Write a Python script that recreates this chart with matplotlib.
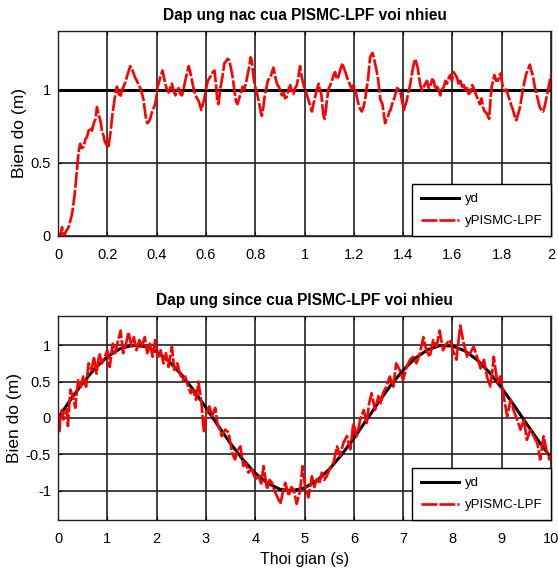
import matplotlib
matplotlib.use("Agg")
import matplotlib.pyplot as plt

# Step response
t_step = [0.000, 0.010, 0.016, 0.024, 0.032, 0.043, 0.057, 0.068, 0.077, 0.084, 0.090, 0.097,
          0.104, 0.111, 0.118, 0.124, 0.131, 0.138, 0.145, 0.152, 0.158, 0.163, 0.168, 0.173,
          0.178, 0.184, 0.189, 0.194, 0.199, 0.204, 0.208, 0.214, 0.219, 0.225, 0.230, 0.235,
          0.239, 0.246, 0.253, 0.260, 0.266, 0.273, 0.280, 0.287, 0.293, 0.300, 0.307, 0.313,
          0.320, 0.327, 0.334, 0.341, 0.347, 0.352, 0.357, 0.362, 0.368, 0.374, 0.380, 0.387,
          0.394, 0.399, 0.404, 0.410, 0.415, 0.420, 0.424, 0.430, 0.435, 0.442, 0.449, 0.455,
          0.462, 0.469, 0.476, 0.482, 0.489, 0.496, 0.503, 0.510, 0.516, 0.523, 0.530, 0.535,
          0.540, 0.547, 0.554, 0.561, 0.568, 0.575, 0.581, 0.588, 0.595, 0.601, 0.608, 0.615,
          0.622, 0.628, 0.635, 0.641, 0.646, 0.651, 0.658, 0.668, 0.675, 0.681, 0.688, 0.695,
          0.701, 0.708, 0.715, 0.722, 0.728, 0.735, 0.742, 0.749, 0.755, 0.762, 0.769, 0.776,
          0.781, 0.786, 0.792, 0.797, 0.803, 0.808, 0.814, 0.819, 0.823, 0.827, 0.833, 0.838,
          0.845, 0.851, 0.858, 0.865, 0.870, 0.874, 0.881, 0.888, 0.895, 0.901, 0.908, 0.915,
          0.921, 0.928, 0.935, 0.942, 0.948, 0.955, 0.962, 0.969, 0.975, 0.982, 0.987, 0.992,
          0.998, 1.003, 1.010, 1.016, 1.023, 1.030, 1.036, 1.043, 1.050, 1.057, 1.062, 1.068,
          1.073, 1.077, 1.082, 1.086, 1.091, 1.097, 1.104, 1.111, 1.118, 1.124, 1.131, 1.138,
          1.146, 1.154, 1.161, 1.168, 1.173, 1.178, 1.185, 1.192, 1.198, 1.205, 1.212, 1.219,
          1.225, 1.232, 1.239, 1.246, 1.251, 1.257, 1.262, 1.266, 1.271, 1.276, 1.281, 1.286,
          1.292, 1.297, 1.303, 1.308, 1.316, 1.322, 1.327, 1.332, 1.338, 1.344, 1.349, 1.355,
          1.362, 1.369, 1.376, 1.383, 1.389, 1.396, 1.403, 1.408, 1.414, 1.421, 1.427, 1.433,
          1.438, 1.444, 1.449, 1.454, 1.459, 1.465, 1.470, 1.477, 1.484, 1.490, 1.497, 1.504,
          1.511, 1.518, 1.524, 1.531, 1.538, 1.545, 1.551, 1.558, 1.565, 1.572, 1.578, 1.585,
          1.592, 1.598, 1.605, 1.612, 1.619, 1.626, 1.632, 1.639, 1.646, 1.653, 1.659, 1.666,
          1.673, 1.680, 1.684, 1.690, 1.697, 1.704, 1.711, 1.718, 1.724, 1.731, 1.738, 1.744,
          1.749, 1.754, 1.759, 1.765, 1.770, 1.777, 1.784, 1.790, 1.795, 1.800, 1.805, 1.812,
          1.819, 1.826, 1.832, 1.839, 1.846, 1.852, 1.859, 1.866, 1.873, 1.880, 1.886, 1.893,
          1.900, 1.907, 1.914, 1.920, 1.927, 1.934, 1.941, 1.948, 1.954, 1.961, 1.968, 1.975,
          1.981, 1.988, 1.995, 2.000]
y_step = [0.02, 0.00, 0.06, 0.00, 0.03, 0.06, 0.15, 0.29, 0.45, 0.58, 0.63, 0.60,
          0.61, 0.66, 0.68, 0.72, 0.74, 0.72, 0.77, 0.80, 0.88, 0.84, 0.81, 0.78,
          0.72, 0.69, 0.65, 0.63, 0.62, 0.60, 0.65, 0.72, 0.81, 0.88, 0.94, 0.99,
          1.02, 0.97, 0.95, 1.00, 1.02, 1.05, 1.09, 1.13, 1.16, 1.14, 1.11, 1.08,
          1.06, 1.03, 1.01, 0.97, 0.93, 0.86, 0.80, 0.77, 0.78, 0.80, 0.84, 0.87,
          0.90, 0.95, 1.02, 1.05, 1.09, 1.11, 1.13, 1.08, 1.04, 1.00, 0.98, 1.01,
          1.04, 0.99, 0.96, 0.99, 1.01, 0.97, 0.96, 1.01, 1.06, 1.11, 1.16, 1.13,
          1.09, 1.03, 0.98, 0.95, 0.93, 0.90, 0.86, 0.90, 0.95, 1.01, 1.06, 1.08,
          1.10, 1.12, 1.13, 1.03, 0.92, 0.90, 1.00, 1.10, 1.18, 1.19, 1.21, 1.20,
          1.15, 1.09, 1.00, 0.92, 0.90, 0.94, 0.98, 1.02, 1.00, 1.04, 1.10, 1.16,
          1.22, 1.20, 1.10, 1.04, 1.00, 0.97, 0.92, 0.88, 0.84, 0.82, 0.88, 0.95,
          1.01, 1.06, 1.08, 1.10, 1.13, 1.15, 1.09, 1.04, 1.02, 1.00, 0.96, 0.98,
          0.94, 0.95, 1.00, 1.03, 0.99, 0.97, 1.01, 1.03, 1.09, 1.16, 1.10, 1.06,
          1.02, 1.00, 0.96, 0.93, 0.89, 0.85, 0.90, 0.95, 1.00, 1.04, 1.00, 0.97,
          0.88, 0.82, 0.80, 0.85, 0.93, 1.00, 1.03, 1.06, 1.10, 1.12, 1.07, 1.09,
          1.14, 1.18, 1.14, 1.11, 1.08, 1.06, 1.03, 1.00, 1.03, 1.01, 0.95, 0.90,
          0.87, 0.85, 0.88, 0.93, 1.00, 1.06, 1.15, 1.22, 1.24, 1.25, 1.22, 1.18,
          1.13, 1.09, 1.00, 0.93, 0.90, 0.83, 0.77, 0.80, 0.81, 0.85, 0.86, 0.90,
          0.93, 0.97, 1.01, 1.00, 0.98, 0.92, 0.86, 0.89, 0.92, 0.98, 1.02, 1.08,
          1.13, 1.18, 1.21, 1.18, 1.15, 1.08, 1.03, 0.99, 1.02, 1.04, 1.06, 1.01,
          1.03, 1.07, 1.06, 1.00, 1.02, 0.99, 0.96, 1.00, 1.02, 1.06, 1.04, 1.08,
          1.10, 1.06, 1.12, 1.10, 1.08, 1.03, 1.06, 1.02, 1.03, 0.99, 1.01, 0.97,
          0.98, 1.03, 1.02, 0.99, 0.96, 0.93, 0.90, 0.94, 0.88, 0.85, 0.84, 0.82,
          0.80, 0.92, 1.02, 1.06, 1.10, 1.06, 1.06, 1.09, 1.11, 1.06, 1.02, 0.99,
          1.00, 0.96, 0.93, 0.89, 0.86, 0.82, 0.79, 0.83, 0.87, 0.94, 1.00, 1.06,
          1.11, 1.14, 1.17, 1.13, 1.09, 1.02, 0.97, 0.92, 0.88, 0.86, 0.85, 0.89,
          0.94, 1.00, 1.06, 1.10]
t_yd_step = [0, 2]
yd_step = [1, 1]

# Sine tracking
t_sin = [0.00, 0.03, 0.05, 0.08, 0.11, 0.15, 0.18, 0.20, 0.22, 0.25, 0.30, 0.35, 0.38, 0.41,
         0.46, 0.51, 0.54, 0.57, 0.62, 0.68, 0.73, 0.78, 0.84, 0.89, 0.95, 1.00, 1.05, 1.11,
         1.16, 1.22, 1.27, 1.32, 1.38, 1.43, 1.49, 1.54, 1.59, 1.65, 1.70, 1.76, 1.81, 1.86,
         1.92, 1.97, 2.03, 2.08, 2.14, 2.19, 2.24, 2.31, 2.36, 2.42, 2.47, 2.53, 2.58, 2.64,
         2.69, 2.74, 2.80, 2.85, 2.91, 2.96, 3.01, 3.07, 3.12, 3.19, 3.23, 3.28, 3.32, 3.39,
         3.46, 3.53, 3.59, 3.64, 3.70, 3.76, 3.81, 3.86, 3.93, 4.00, 4.07, 4.12, 4.17, 4.24,
         4.29, 4.34, 4.39, 4.44, 4.51, 4.56, 4.61, 4.68, 4.73, 4.78, 4.84, 4.91, 4.96, 5.01,
         5.08, 5.15, 5.20, 5.25, 5.30, 5.35, 5.40, 5.45, 5.52, 5.59, 5.66, 5.72, 5.79, 5.86,
         5.93, 5.99, 6.06, 6.13, 6.20, 6.26, 6.31, 6.36, 6.43, 6.50, 6.55, 6.59, 6.66, 6.73,
         6.80, 6.86, 6.93, 7.00, 7.07, 7.14, 7.20, 7.27, 7.34, 7.41, 7.47, 7.54, 7.61, 7.68,
         7.74, 7.81, 7.88, 7.95, 8.01, 8.08, 8.16, 8.23, 8.30, 8.36, 8.43, 8.50, 8.57, 8.64,
         8.70, 8.77, 8.84, 8.91, 8.97, 9.04, 9.11, 9.18, 9.24, 9.31, 9.38, 9.45, 9.51, 9.58,
         9.65, 9.72, 9.78, 9.85, 9.92, 9.97, 10.00]
y_sin = [0.02, -0.20, 0.05, 0.11, -0.02, 0.07, 0.12, -0.11, 0.10, 0.39, 0.30, 0.14, 0.35, 0.52,
         0.43, 0.57, 0.48, 0.43, 0.75, 0.66, 0.84, 0.61, 0.89, 0.75, 0.84, 0.93, 0.70, 1.02,
         0.89, 1.07, 1.20, 0.89, 1.02, 1.18, 0.98, 1.11, 0.93, 1.07, 0.98, 1.11, 0.89, 1.02,
         0.84, 1.07, 0.84, 0.93, 0.75, 0.89, 0.70, 0.98, 0.66, 0.75, 0.61, 0.52, 0.57, 0.43,
         0.34, 0.39, 0.25, 0.50, 0.20, -0.20, 0.07, 0.16, 0.02, 0.14, -0.07, -0.16, -0.25, -0.16,
         -0.20, -0.48, -0.57, -0.45, -0.39, -0.66, -0.62, -0.75, -0.70, -0.84, -0.80, -0.90, -0.66, -0.98,
         -0.85, -0.89, -1.00, -1.07, -1.18, -1.02, -0.89, -1.07, -0.95, -0.98, -1.18, -1.00, -0.66, -0.93,
         -1.09, -0.80, -0.95, -0.84, -0.90, -0.75, -0.85, -0.80, -0.68, -0.61, -0.39, -0.52, -0.34, -0.25,
         -0.43, -0.07, -0.25, -0.02, 0.11, -0.07, 0.20, 0.34, 0.11, 0.30, 0.20, 0.34, 0.43, 0.57,
         0.43, 0.75, 0.66, 0.52, 0.70, 0.80, 0.84, 0.75, 0.89, 1.11, 0.93, 0.84, 1.07, 0.98,
         1.20, 0.93, 1.02, 1.07, 0.93, 0.80, 1.27, 1.02, 0.84, 0.89, 0.98, 0.84, 0.68, 0.80,
         0.57, 0.43, 0.84, 0.48, 0.57, 0.30, 0.02, 0.25, 0.11, -0.02, -0.16, -0.02, -0.30, -0.16,
         -0.25, -0.34, -0.57, -0.25, -0.48, -0.57, -0.50]
t_yd_sin = [0.0, 0.25, 0.5, 0.75, 1.0, 1.25, 1.5, 1.75, 2.0, 2.25, 2.5, 2.75, 3.0, 3.25,
            3.5, 3.75, 4.0, 4.25, 4.5, 4.75, 5.0, 5.25, 5.5, 5.75, 6.0, 6.25, 6.5, 6.75,
            7.0, 7.25, 7.5, 7.75, 8.0, 8.25, 8.5, 8.75, 9.0, 9.25, 9.5, 9.75, 10.0]
yd_sin = [0.000, 0.247, 0.479, 0.682, 0.841, 0.949, 0.997, 0.984, 0.909, 0.778, 0.598, 0.382,
          0.141, -0.108, -0.351, -0.572, -0.757, -0.895, -0.978, -0.999, -0.959, -0.859, -0.706,
          -0.508, -0.279, -0.033, 0.215, 0.451, 0.657, 0.823, 0.938, 0.995, 0.989, 0.923, 0.798,
          0.625, 0.412, 0.174, -0.075, -0.319, -0.544]

plt.rcParams['font.family'] = ['Liberation Sans', 'DejaVu Sans']
plt.rcParams['font.size'] = 10.5

fig = plt.figure(figsize=(5.58, 5.75), dpi=100)
ax1 = fig.add_axes([0.104, 0.5896, 0.8835, 0.3565])
ax2 = fig.add_axes([0.104, 0.0957, 0.8835, 0.3547])

red_dash = (0, (6, 0.8))

def style(ax):
    ax.grid(True, color='#222222', linewidth=1.2)
    ax.set_axisbelow(True)
    ax.tick_params(direction='in', length=3, top=True, right=True)
    ax.tick_params(axis='x', pad=9)
    ax.tick_params(axis='y', pad=5)
    for s in ax.spines.values():
        s.set_color('#222222')
        s.set_linewidth(1.0)

ax1.plot(t_yd_step, yd_step, color='black', linewidth=2.2, label='yd')
ax1.plot(t_step, y_step, color='red', linewidth=1.9, linestyle=red_dash, label='yPISMC-LPF')
ax1.set_xlim(0, 2)
ax1.set_ylim(0, 1.4)
ax1.set_xticks([0, 0.2, 0.4, 0.6, 0.8, 1, 1.2, 1.4, 1.6, 1.8, 2])
ax1.set_xticklabels(['0', '0.2', '0.4', '0.6', '0.8', '1', '1.2', '1.4', '1.6', '1.8', '2'])
ax1.set_yticks([0, 0.5, 1])
ax1.set_yticklabels(['0', '0.5', '1'])
ax1.set_title('Dap ung nac cua PISMC-LPF voi nhieu', fontweight='bold', fontsize=11.2, pad=8)
ax1.set_ylabel('Bien do (m)', fontsize=12.5, labelpad=3)
style(ax1)

ax2.plot(t_yd_sin, yd_sin, color='black', linewidth=2.2, label='yd')
ax2.plot(t_sin, y_sin, color='red', linewidth=1.9, linestyle=red_dash, label='yPISMC-LPF')
ax2.set_xlim(0, 10)
ax2.set_ylim(-1.4, 1.4)
ax2.set_xticks(range(11))
ax2.set_yticks([-1, -0.5, 0, 0.5, 1])
ax2.set_yticklabels(['-1', '-0.5', '0', '0.5', '1'])
ax2.set_title('Dap ung since cua PISMC-LPF voi nhieu', fontweight='bold', fontsize=11.2, pad=8)
ax2.set_ylabel('Bien do (m)', fontsize=12.5, labelpad=3)
ax2.set_xlabel('Thoi gian (s)', fontsize=11.5, labelpad=4)
style(ax2)

for ax in (ax1, ax2):
    leg = ax.legend(loc='lower right', borderaxespad=0, fancybox=False, framealpha=1,
                    edgecolor='black', fontsize=9.5, handlelength=2.9, handletextpad=0.45,
                    borderpad=0.65, labelspacing=0.75)
    leg.get_frame().set_linewidth(1.0)

fig.savefig('out.png', dpi=100)
